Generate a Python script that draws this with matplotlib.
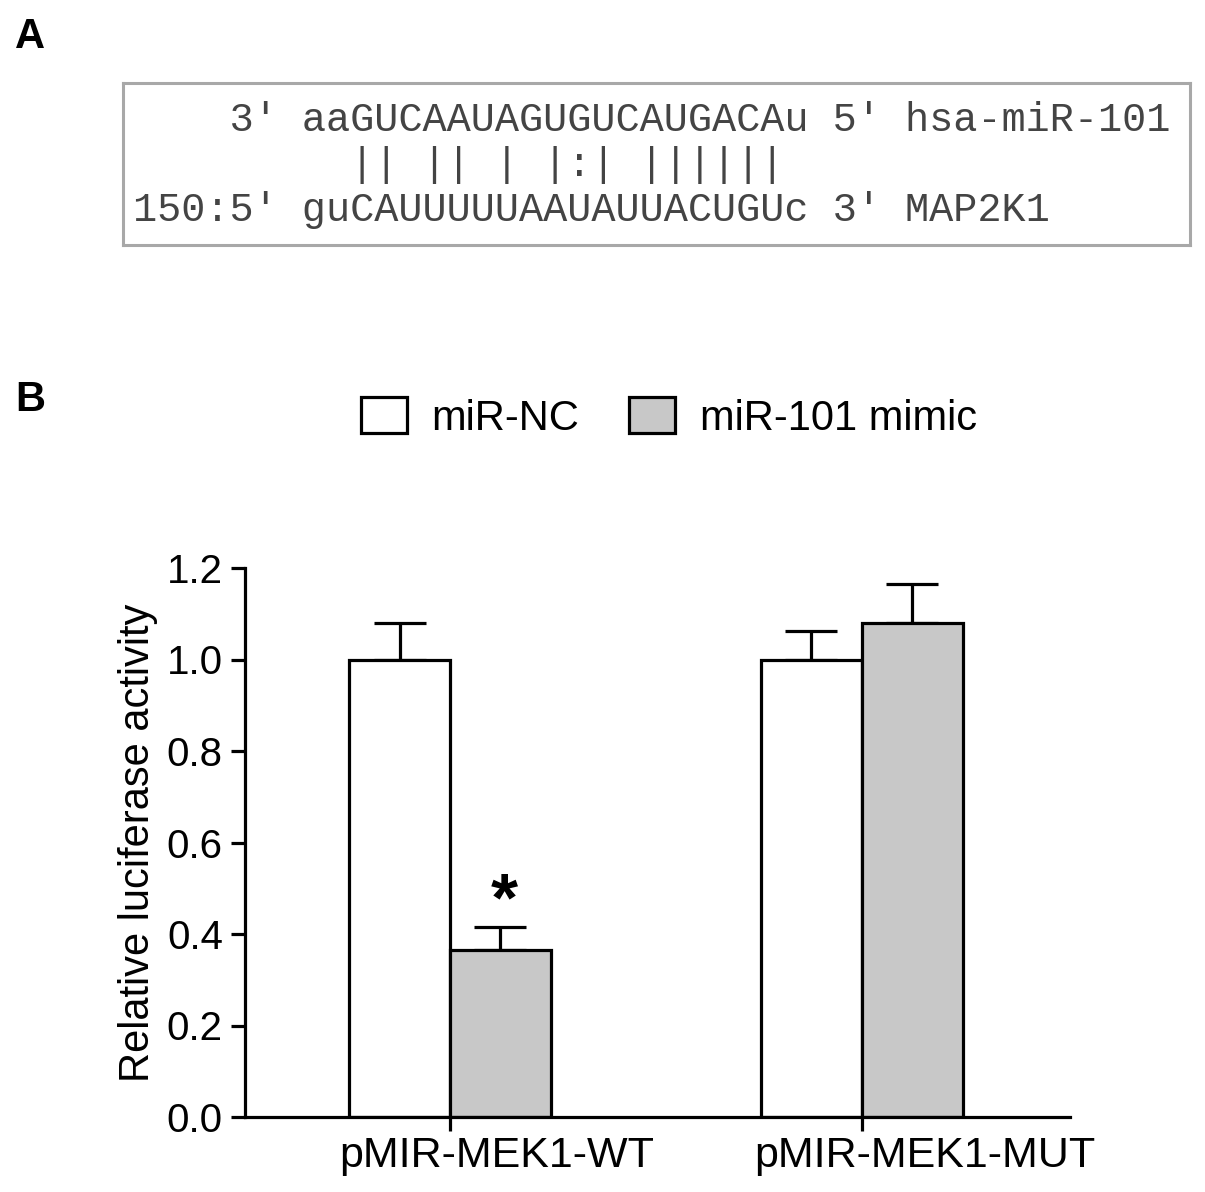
import matplotlib
matplotlib.use("Agg")
import matplotlib.pyplot as plt
import numpy as np

# panel B data
groups = ["pMIR-MEK1-WT", "pMIR-MEK1-MUT"]
series_names = ["miR-NC", "miR-101 mimic"]
nc_values = [1.00, 1.00]
nc_err = [0.08, 0.062]
mimic_values = [0.365, 1.08]
mimic_err = [0.05, 0.085]
y_ticks = [0.0, 0.2, 0.4, 0.6, 0.8, 1.0, 1.2]

# panel A sequence alignment
align_lines = [
    "    3' aaGUCAAUAGUGUCAUGACAu 5' hsa-miR-101",
    "         || || | |:| ||||||",
    "150:5' guCAUUUUUAAUAUUACUGUc 3' MAP2K1",
]


def main():
    plt.rcParams.update({
        "font.family": ["Liberation Sans", "DejaVu Sans"],
        "font.size": 29,
        "axes.linewidth": 2.3,
    })
    fig = plt.figure(figsize=(12.05, 11.92), dpi=100)
    W, H = 1205, 1192

    # ---- panel A ----
    fig.text(15 / W, 1 - 37 / H, "A", fontsize=30, fontweight="bold", va="center", ha="left")
    axA = fig.add_axes([123 / W, 1 - 245 / H, (1190 - 123) / W, (245 - 83) / H])
    axA.set_xticks([])
    axA.set_yticks([])
    for s in axA.spines.values():
        s.set_color("#a8a8a8")
        s.set_linewidth(2.2)
    line_y = [120, 165, 210]
    for txt, yy in zip(align_lines, line_y):
        fig.text(133 / W, 1 - yy / H, txt, family=["Liberation Mono", "DejaVu Sans Mono"],
                 fontsize=29, color="#444444", va="center", ha="left")

    # ---- panel B ----
    fig.text(15 / W, 1 - 400 / H, "B", fontsize=30, fontweight="bold", va="center", ha="left")
    ax = fig.add_axes([245 / W, 1 - 1117 / H, (1070 - 245) / W, (1117 - 568) / H])
    x = np.arange(len(groups))
    width = 0.245
    err_kw = dict(ecolor="black", elinewidth=2.3, capsize=19, capthick=2.3)
    b1 = ax.bar(x - width / 2, nc_values, width, color="white", edgecolor="black",
                linewidth=2.3, label=series_names[0], zorder=2)
    b2 = ax.bar(x + width / 2, mimic_values, width, color="#c8c8c8", edgecolor="black",
                linewidth=2.3, label=series_names[1], zorder=2)
    ax.errorbar(x - width / 2, nc_values, yerr=[np.zeros(len(x)), nc_err], fmt="none", zorder=1, **err_kw)
    ax.errorbar(x + width / 2, mimic_values, yerr=[np.zeros(len(x)), mimic_err], fmt="none", zorder=1, **err_kw)
    ax.text(x[0] + width / 2 + 0.01, mimic_values[0] + mimic_err[0] + 0.055, "*", fontsize=50,
            fontweight="bold", ha="center", va="center")

    ax.set_ylim(0, 1.2)
    ax.set_xlim(-0.4976, 1.505)
    ax.set_yticks(y_ticks)
    ax.set_yticklabels([f"{v:.1f}" for v in y_ticks])
    ax.set_xticks(x)
    ax.set_xticklabels([])
    ax.set_xticks([0.114, 1.153], minor=True)
    ax.set_xticklabels(groups, minor=True, fontsize=31)
    ax.tick_params(axis="x", which="minor", length=0, pad=14)
    ax.tick_params(axis="both", which="major", length=10, width=2.3, direction="out", pad=6)
    ax.spines["top"].set_visible(False)
    ax.spines["right"].set_visible(False)
    ax.set_ylabel("Relative luciferase activity", fontsize=30, labelpad=6)

    fig.legend(handles=[b1, b2], labels=series_names, loc="center",
               bbox_to_anchor=(669 / W, 1 - 418 / H), ncol=2, frameon=False,
               handlelength=1.1, handleheight=0.95, handletextpad=0.6, columnspacing=1.2,
               fontsize=30)

    fig.savefig("out.png", dpi=100)
    plt.close(fig)


if __name__ == "__main__":
    main()
